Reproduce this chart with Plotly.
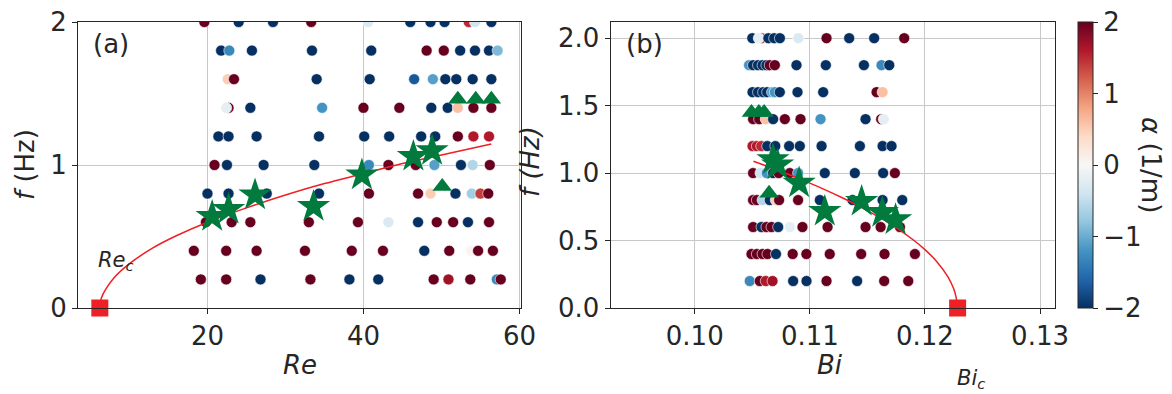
"""Two-panel scatter of measured alpha vs (Re, f) and (Bi, f) with fit curves."""

import plotly.graph_objects as go

# ---- panel (a): Re vs f, colour = alpha (1/m) ----
re_a = [
    # f = 2.0
    19.6, 24.0, 28.4, 33.3, 40.6, 46.0, 48.6, 50.4, 53.5, 54.3, 56.4,
    # f = 1.8
    21.75, 22.8, 25.7, 33.4, 41.0, 48.1, 50.3, 52.4, 54.3, 56.1, 57.2,
    # f = 1.6
    22.6, 23.4, 34.0, 40.8, 46.5, 48.9, 50.5, 51.9, 54.0, 56.4,
    # f = 1.4
    22.7, 22.4, 25.5, 34.7, 40.0, 44.6, 48.7, 50.8, 52.1, 54.1, 56.4,
    # f = 1.2
    21.4, 22.7, 26.3, 34.3, 40.1, 43.3, 47.4, 49.2, 52.1, 54.1, 56.1,
    # f = 1.0
    20.9, 22.5, 27.2, 33.7, 40.7, 43.2, 46.7, 49.1, 52.5, 54.0, 56.2,
    # f = 0.8
    20.0, 22.7, 27.6, 34.3, 40.7, 47.0, 48.6, 51.8, 53.9, 55.0, 56.0,
    # f = 0.6
    19.8, 23.1, 25.5, 33.0, 39.3, 43.2, 47.0, 49.4, 51.5, 53.4, 56.1,
    # f = 0.4
    18.25, 22.4, 26.3, 32.5, 38.5, 42.5, 47.8, 51.0, 53.8, 54.7, 56.6,
    # f = 0.2
    19.15, 22.4, 26.8, 33.2, 38.2, 41.9, 49.0, 50.9, 53.7, 57.1, 57.6,
]
f_a = ([2.0] * 11 + [1.8] * 11 + [1.6] * 10 + [1.4] * 11 + [1.2] * 11
       + [1.0] * 11 + [0.8] * 11 + [0.6] * 11 + [0.4] * 11 + [0.2] * 11)
alpha_a = [
    2, -2, -2, 2, -0.3, -2, -2, -2, 1.5, -0.4, -2,
    -2, -1.3, -2, -2, -2, 2, 2, -2, -2, -2, -0.9,
    0.5, 2, -2, -2, -1.7, -1.1, -2, -2, -2, -2,
    2, -0.2, -2, -1.2, 2, 2, -2, -2, 0.6, 2, 2,
    -2, -2, -2, -2, -2, -2, -2, -2, 2, 1.6, 1.6,
    2, -2, -2, -2, -1.3, 2, 2, -1.1, -2, -0.6, 2,
    -2, -2, -2, -2, 2, 2, 0.5, -2, -0.7, 1.4, 2,
    2, 2, 2, 2, 2, -0.3, -2, 2, 2, -2, 2,
    2, 2, 2, 2, 2, 2, -2, 2, 0.05, 2, 2,
    2, 2, -2, 2, -2, -2, 2, 1.7, 2, -1.3, 2,
]

stars_re = [20.6, 22.7, 26.1, 33.6, 39.8, 46.4, 48.8]
stars_re_f = [0.64, 0.69, 0.79, 0.71, 0.93, 1.06, 1.10]
tri_re = [52.1, 54.4, 56.4, 50.1]
tri_re_f = [1.46, 1.46, 1.46, 0.85]

# fit curve (Re, f)
fit_re = [6.2, 6.4, 7.0, 8.0, 10.0, 13.0, 16.0, 20.0, 25.0, 30.0, 35.0, 40.0, 45.0, 50.0, 56.4]
fit_re_f = [0.0, 0.07, 0.135, 0.21, 0.31, 0.42, 0.505, 0.60, 0.70, 0.79, 0.87, 0.94, 1.01, 1.07, 1.147]
re_c = 6.2

# ---- panel (b): Bi vs f ----
bi_b = [
    # f = 2.0
    0.1050, 0.1058, 0.10556, 0.1064, 0.1069, 0.1074, 0.1090, 0.11145, 0.11342, 0.11559, 0.1182,
    # f = 1.8
    0.10472, 0.10507, 0.1055, 0.10589, 0.10623, 0.10652, 0.10696, 0.10884, 0.11139, 0.11470, 0.11623, 0.11690,
    # f = 1.6
    0.10502, 0.1055, 0.10594, 0.10629, 0.10672, 0.10696, 0.10739, 0.10893, 0.11116, 0.11580, 0.11632,
    # f = 1.4
    0.10507, 0.1056, 0.10617, 0.10681, 0.10783, 0.10919, 0.11093, 0.11484, 0.1162, 0.11642,
    # f = 1.2
    0.10502, 0.1054, 0.10578, 0.1063, 0.1070, 0.10820, 0.10913, 0.11102, 0.11435, 0.11632, 0.11710,
    # f = 1.0
    0.10507, 0.10571, 0.10626, 0.10681, 0.1073, 0.10826, 0.10898, 0.11130, 0.11391, 0.11637, 0.11739,
    # f = 0.8
    0.10507, 0.1054, 0.10589, 0.10652, 0.10704, 0.10733, 0.10898, 0.11087, 0.11371, 0.11632, 0.11803,
    # f = 0.6
    0.10507, 0.10580, 0.10623, 0.10667, 0.10725, 0.10826, 0.10936, 0.11154, 0.11484, 0.11615, 0.11783,
    # f = 0.4
    0.10493, 0.1054, 0.10589, 0.10632, 0.10706, 0.10851, 0.1097, 0.11173, 0.11446, 0.11649, 0.11913,
    # f = 0.2
    0.10478, 0.10565, 0.10617, 0.10676, 0.10855, 0.10971, 0.11145, 0.11411, 0.11646, 0.11855,
]
f_b = ([2.0] * 11 + [1.8] * 12 + [1.6] * 11 + [1.4] * 10 + [1.2] * 11
       + [1.0] * 11 + [0.8] * 11 + [0.6] * 11 + [0.4] * 11 + [0.2] * 10)
alpha_b = [
    -2, 1.5, -0.2, -2, -2, -2, -0.3, 2, -2, -2, 2,
    -1.2, -2, -2, -2, -2, 2, 2, -2, -2, -2, -1.3, -2,
    -2, -2, -2, -2, -1.1, -1.2, -2, -2, -2, 2, 0.6,
    2, 2, 0.6, -2, 2, 2, -1.2, -2, 2, -0.2,
    1.6, 1.6, 1.5, -2, -2, -2, -2, -2, -2, -2, -2,
    2, -0.4, -1.2, -2, 2, 2, -1.2, -2, -2, -2, 2,
    2, 2, -0.6, -2, 0.5, 2, 2, -2, -2, -2, -2,
    2, -2, 2, 2, -2, -0.2, 2, 2, 2, 2, 2,
    2, 2, 2, 2, -2, 2, 2, 2, 2, 2, 2,
    -1.3, 2, 1.6, 1.7, -2, -2, 2, -2, 2, 2,
]

stars_bi = [0.1068, 0.1072, 0.10907, 0.1113, 0.1145, 0.1163, 0.11745]
stars_bi_f = [1.10, 1.06, 0.926, 0.716, 0.79, 0.708, 0.654]
tri_bi = [0.10493, 0.10557, 0.10603, 0.10646]
tri_bi_f = [1.45, 1.45, 1.45, 0.85]

fit_bi = [0.1051, 0.107, 0.109, 0.111, 0.113, 0.115, 0.117, 0.119, 0.120, 0.121, 0.122, 0.1225, 0.1227, 0.12284]
fit_bi_f = [1.088, 1.028, 0.961, 0.889, 0.810, 0.722, 0.623, 0.504, 0.433, 0.347, 0.231, 0.142, 0.082, 0.0]
bi_c = 0.12284

# matplotlib RdBu_r
rdbu_r = ["#053061", "#2166ac", "#4393c3", "#92c5de", "#d1e5f0", "#f7f7f7",
          "#fddbc7", "#f4a582", "#d6604d", "#b2182b", "#67001f"]
colorscale = [[i / 10, c] for i, c in enumerate(rdbu_r)]

GREEN = "#007a3d"
RED = "#ee2025"
FONT = "DejaVu Sans"
TXT = "#262626"
FS = 26

fig = go.Figure()

# panel (a)
fig.add_trace(go.Scatter(
    x=re_a, y=f_a, mode="markers", xaxis="x", yaxis="y",
    marker=dict(size=11, color=alpha_a, colorscale=colorscale, cmin=-2, cmax=2,
                line=dict(color="white", width=0.6), showscale=False),
))
fig.add_trace(go.Scatter(x=fit_re, y=fit_re_f, mode="lines", line=dict(color=RED, width=1.5, shape="spline"),
                         xaxis="x", yaxis="y"))
fig.add_trace(go.Scatter(x=stars_re, y=stars_re_f, mode="markers", xaxis="x", yaxis="y",
                         marker=dict(symbol="star", size=25, color=GREEN, line=dict(width=0))))
fig.add_trace(go.Scatter(x=tri_re, y=tri_re_f, mode="markers", xaxis="x", yaxis="y",
                         marker=dict(symbol="triangle-up", size=17, color=GREEN, line=dict(width=0))))
fig.add_trace(go.Scatter(x=[re_c], y=[0], mode="markers", xaxis="x", yaxis="y", cliponaxis=False,
                         marker=dict(symbol="square", size=17, color=RED, line=dict(width=0))))

# panel (b)
fig.add_trace(go.Scatter(
    x=bi_b, y=f_b, mode="markers", xaxis="x2", yaxis="y2",
    marker=dict(size=11, color=alpha_b, colorscale=colorscale, cmin=-2, cmax=2,
                line=dict(color="white", width=0.6), showscale=True,
                colorbar=dict(x=1078 / 1172, xanchor="left", xref="paper", xpad=0, ypad=0,
                              y=(394 - 308) / 394, yanchor="bottom", yref="paper",
                              len=286 / 394, lenmode="fraction", thickness=15,
                              outlinecolor=TXT, outlinewidth=1,
                              tickvals=[-2, -1, 0, 1, 2], ticktext=["\u22122", "\u22121", "0", "1", "2"],
                              ticks="outside", ticklen=5, tickcolor=TXT,
                              tickfont=dict(family=FONT, size=FS, color=TXT))),
))
fig.add_trace(go.Scatter(x=fit_bi, y=fit_bi_f, mode="lines", line=dict(color=RED, width=1.5, shape="spline"),
                         xaxis="x2", yaxis="y2"))
fig.add_trace(go.Scatter(x=stars_bi, y=stars_bi_f, mode="markers", xaxis="x2", yaxis="y2",
                         marker=dict(symbol="star", size=25, color=GREEN, line=dict(width=0))))
fig.add_trace(go.Scatter(x=tri_bi, y=tri_bi_f, mode="markers", xaxis="x2", yaxis="y2",
                         marker=dict(symbol="triangle-up", size=17, color=GREEN, line=dict(width=0))))
fig.add_trace(go.Scatter(x=[bi_c], y=[0], mode="markers", xaxis="x2", yaxis="y2", cliponaxis=False,
                         marker=dict(symbol="square", size=17, color=RED, line=dict(width=0))))

axis_common = dict(
    showline=True, linecolor=TXT, linewidth=1.2, mirror=True,
    ticks="outside", ticklen=5, tickcolor=TXT, tickwidth=1.2,
    showgrid=True, gridcolor="#c8c8c8", gridwidth=1.3,
    zeroline=False, automargin=False,
    tickfont=dict(family=FONT, size=FS, color=TXT),
)

ybot = (394 - 308) / 394
ytop = (394 - 22) / 394

fig.update_layout(
    width=1172, height=394,
    margin=dict(l=0, r=0, t=0, b=0),
    paper_bgcolor="white", plot_bgcolor="white",
    showlegend=False,
    xaxis=dict(domain=[78 / 1172, 521 / 1172], range=[3.4, 60.2], tickvals=[20, 40, 60], anchor="y", **axis_common),
    yaxis=dict(domain=[ybot, ytop], range=[0, 2], tickvals=[0, 1, 2], anchor="x", **axis_common),
    xaxis2=dict(domain=[610.7 / 1172, 1055 / 1172], range=[0.0927, 0.1313],
                tickvals=[0.10, 0.11, 0.12, 0.13], ticktext=["0.10", "0.11", "0.12", "0.13"],
                anchor="y2", **axis_common),
    yaxis2=dict(domain=[ybot, ytop], range=[0, 2.12], tickvals=[0, 0.5, 1.0, 1.5, 2.0],
                ticktext=["0.0", "0.5", "1.0", "1.5", "2.0"], anchor="x2", **axis_common),
)

def note(text, x, y, angle=0, size=FS, xanchor="center"):
    fig.add_annotation(text=text, x=x / 1172, y=1 - y / 394, xref="paper", yref="paper",
                       showarrow=False, textangle=angle, xanchor=xanchor, yanchor="middle",
                       font=dict(family=FONT, size=size, color=TXT))

note("<i>Re</i>", 300, 365)
note("<i>Bi</i>", 830, 365)
note("<i>f</i> (Hz)", 25, 165, angle=-90)
note("<i>f (Hz)</i>", 530, 162, angle=-90)
note("(a)", 91, 44, xanchor="left")
note("(b)", 624, 44, xanchor="left")
note("<i>Re</i><sub><i>c</i></sub>", 96, 261, size=21, xanchor="left")
note("<i>Bi</i><sub><i>c</i></sub>", 955, 379, size=21, xanchor="left")
note("<i>\u03b1</i> (1/m)", 1151, 165, angle=90)

fig.write_html("out.html", config={"displayModeBar": False},
               post_script="document.body.style.margin='0px';")
